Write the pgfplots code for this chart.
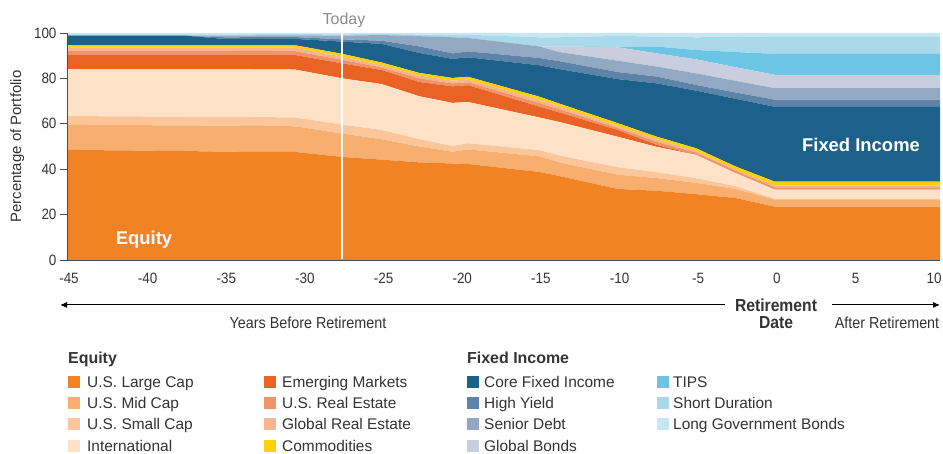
\documentclass[border=0pt]{standalone}
\usepackage{pgfplots}
\pgfplotsset{compat=1.18}
\usepackage{pgfplotstable}
\usepackage{fontspec}
\setmainfont{Liberation Sans}
\newfontfamily\narrowfont[FakeStretch=0.9]{Liberation Sans}
\usetikzlibrary{arrows.meta}

\definecolor{clc}{HTML}{F28325}
\definecolor{cmc}{HTML}{F7AE6E}
\definecolor{csc}{HTML}{FAC69A}
\definecolor{cintl}{HTML}{FDE2C8}
\definecolor{cem}{HTML}{E96325}
\definecolor{cusre}{HTML}{EF9468}
\definecolor{cgre}{HTML}{F6B58C}
\definecolor{ccomm}{HTML}{FFD100}
\definecolor{ccore}{HTML}{1B6189}
\definecolor{chy}{HTML}{5E83A9}
\definecolor{csd}{HTML}{93A9C3}
\definecolor{cgb}{HTML}{C8CEDE}
\definecolor{ctips}{HTML}{6CC5E5}
\definecolor{csdur}{HTML}{A9D9EA}
\definecolor{clg}{HTML}{C8E7F3}
\definecolor{txt}{HTML}{333333}
\definecolor{axcol}{HTML}{4D4D4D}

\pgfplotstableread{
x     lc   mc   sc  intl em  usre gre comm core hy  sd  gb  tips sdur lg
-45   48.5 11.0 3.9 20.7 6.2 1.9 1.4 1.1 4.1  0.0 0.0 0.0 0.0 0.6 0.6
-37.5 48.0 11.3 3.8 21.0 6.2 1.9 1.4 1.1 4.1  0.0 0.0 0.0 0.0 0.6 0.6
-35   47.7 11.5 3.9 21.0 6.2 1.9 1.4 1.1 2.7  0.7 0.7 0.0 0.0 0.6 0.6
-30.5 47.6 11.3 3.9 21.1 6.4 1.7 1.5 1.1 2.8  0.8 0.8 0.0 0.0 0.5 0.5
-27.5 45.4 10.3 3.9 20.4 6.6 1.6 1.4 1.2 5.4  1.0 1.6 0.0 0.0 0.6 0.6
-25   44.2 9.0  4.1 20.2 6.2 1.1 1.0 1.2 8.2  1.4 2.5 0.0 0.0 0.5 0.4
-22.6 43.0 7.0  3.2 18.9 6.3 1.6 1.3 1.1 8.8  2.9 4.5 0.0 0.0 0.7 0.7
-20.5 42.5 5.2  2.5 19.0 7.3 1.3 1.2 1.2 8.4  2.4 7.1 0.0 0.0 1.2 0.7
-19.5 42.3 6.4  2.7 18.2 7.4 1.3 1.2 1.2 8.6  2.6 5.9 0.0 0.0 1.4 0.8
-15   38.8 6.9  2.7 14.4 4.8 1.6 1.4 1.4 13.8 3.2 5.1 0.0 0.0 4.0 1.9
-13.7 37.0 6.0  3.0 14.8 4.2 1.4 1.3 1.2 15.2 3.5 4.0 2.5 0.0 4.0 1.9
-10   31.3 6.3  3.3 13.4 3.0 0.9 0.8 1.3 19.4 3.1 5.0 5.9 0.0 5.0 1.3
-7.5  30.5 5.6  2.5 11.2 0.9 1.3 1.2 1.1 23.5 3.0 4.4 5.8 3.0 4.4 1.6
-5    29.0 5.0  2.0 10.3 0.0 1.0 0.7 1.2 25.4 2.5 5.1 6.2 4.1 5.6 1.9
-2.5  27.3 4.0  1.2 5.8  0.0 1.0 0.6 1.3 29.8 2.8 5.1 6.0 6.7 6.7 1.7
0     23.5 3.0  0.5 4.0  0.0 1.0 0.8 1.7 33.0 3.1 5.1 5.9 9.2 7.7 1.5
10.5  23.5 3.0  0.5 4.0  0.0 1.0 0.8 1.7 33.0 3.1 5.1 5.9 9.2 7.7 1.5
}\glide

\begin{document}
\begin{tikzpicture}[x=1bp,y=1bp]
\path[use as bounding box] (0,0) rectangle (943,454);
\begin{axis}[
  at={(67bp,194bp)}, anchor=south west,
  width=873bp, height=227bp, scale only axis,
  xmin=-45, xmax=10.5, ymin=0, ymax=100,
  stack plots=y,
  axis x line*=bottom, axis y line*=left,
  axis line style={axcol, line width=0.8bp, -},
  axis on top,
  xtick={-45,-40,-35,-30,-25,-20,-15,-10,-5,0,5,10},
  xticklabels={-45,-40,-35,-30,-25,-20,-15,-10,-5,0,5,10},
  ytick={0,20,40,60,80,100},
  yticklabels={0,20,40,60,80,100},
  x tick style={draw=none},
  y tick style={axcol, line width=0.8bp},
  tick align=outside,
  major tick length=7bp,
  ticklabel style={font=\narrowfont\fontsize{15}{15}\selectfont, text=txt},
  xticklabel style={yshift=-3bp, xshift=2bp},
  ylabel={Percentage of Portfolio},
  ylabel style={font=\fontsize{15}{15}\selectfont, text=txt, yshift=3bp},
  clip=true,
]
\addplot[fill=clc, draw=none] table[x=x,y=lc] {\glide} \closedcycle;
\addplot[fill=cmc, draw=none] table[x=x,y=mc] {\glide} \closedcycle;
\addplot[fill=csc, draw=none] table[x=x,y=sc] {\glide} \closedcycle;
\addplot[fill=cintl, draw=none] table[x=x,y=intl] {\glide} \closedcycle;
\addplot[fill=cem, draw=none] table[x=x,y=em] {\glide} \closedcycle;
\addplot[fill=cusre, draw=none] table[x=x,y=usre] {\glide} \closedcycle;
\addplot[fill=cgre, draw=none] table[x=x,y=gre] {\glide} \closedcycle;
\addplot[fill=ccomm, draw=none] table[x=x,y=comm] {\glide} \closedcycle;
\addplot[fill=ccore, draw=none] table[x=x,y=core] {\glide} \closedcycle;
\addplot[fill=chy, draw=none] table[x=x,y=hy] {\glide} \closedcycle;
\addplot[fill=csd, draw=none] table[x=x,y=sd] {\glide} \closedcycle;
\addplot[fill=cgb, draw=none] table[x=x,y=gb] {\glide} \closedcycle;
\addplot[fill=ctips, draw=none] table[x=x,y=tips] {\glide} \closedcycle;
\addplot[fill=csdur, draw=none] table[x=x,y=sdur] {\glide} \closedcycle;
\addplot[fill=clg, draw=none] table[x=x,y=lg] {\glide} \closedcycle;
\coordinate (todayB) at (axis cs:-27.5,0);
\coordinate (todayT) at (axis cs:-27.5,100);
\end{axis}
\draw[white, line width=2bp] ([yshift=0.5bp]todayB) -- (todayT);

% chart annotations
\node[text=gray!90, font=\fontsize{16}{16}\selectfont] at (344,434) {Today};
\node[text=white, font=\bfseries\fontsize{18.5}{18.5}\selectfont] at (144,214) {Equity};
\node[text=white, font=\bfseries\fontsize{18.5}{18.5}\selectfont] at (861,309) {Fixed Income};

% x-axis explanation
\draw[black, line width=1bp, {Latex[length=7bp,width=6bp]}-] (60,149) -- (725,149);
\draw[black, line width=1bp, -{Latex[length=7bp,width=6bp]}] (832,149) -- (940,149);
\node[text=txt, font=\narrowfont\bfseries\fontsize{17.5}{17.5}\selectfont] at (776,149) {Retirement};
\node[text=txt, font=\narrowfont\bfseries\fontsize{17.5}{17.5}\selectfont] at (776,131) {Date};
\node[text=txt, font=\narrowfont\fontsize{16}{16}\selectfont] at (308,131) {Years Before Retirement};
\node[text=txt, font=\narrowfont\fontsize{16}{16}\selectfont] at (887,131) {After Retirement};

% legend
\begin{scope}[font=\fontsize{15.5}{15.5}\selectfont]
\node[anchor=base west, inner sep=0, text=txt, font=\bfseries\fontsize{16}{16}\selectfont] at (68,90) {Equity};
\node[anchor=base west, inner sep=0, text=txt, font=\bfseries\fontsize{16}{16}\selectfont] at (467,90) {Fixed Income};
\foreach \c/\t/\xs/\xt/\yy in {
  clc/U.S. Large Cap/68/87/72, cmc/U.S. Mid Cap/68/87/51, csc/U.S. Small Cap/68/87/30, cintl/International/68/87/8,
  cem/Emerging Markets/264/282/72, cusre/U.S. Real Estate/264/282/51, cgre/Global Real Estate/264/282/30, ccomm/Commodities/264/282/8,
  ccore/Core Fixed Income/467/484/72, chy/High Yield/467/484/51, csd/Senior Debt/467/484/30, cgb/Global Bonds/467/484/8,
  ctips/TIPS/657/673/72, csdur/Short Duration/657/673/51, clg/Long Government Bonds/657/673/30}{
  \fill[\c] (\xs,\yy-6) rectangle ++(12,12);
  \node[anchor=base west, inner sep=0, text=txt] at (\xt,\yy-5.5) {\t};
}
\end{scope}
\end{tikzpicture}
\end{document}
